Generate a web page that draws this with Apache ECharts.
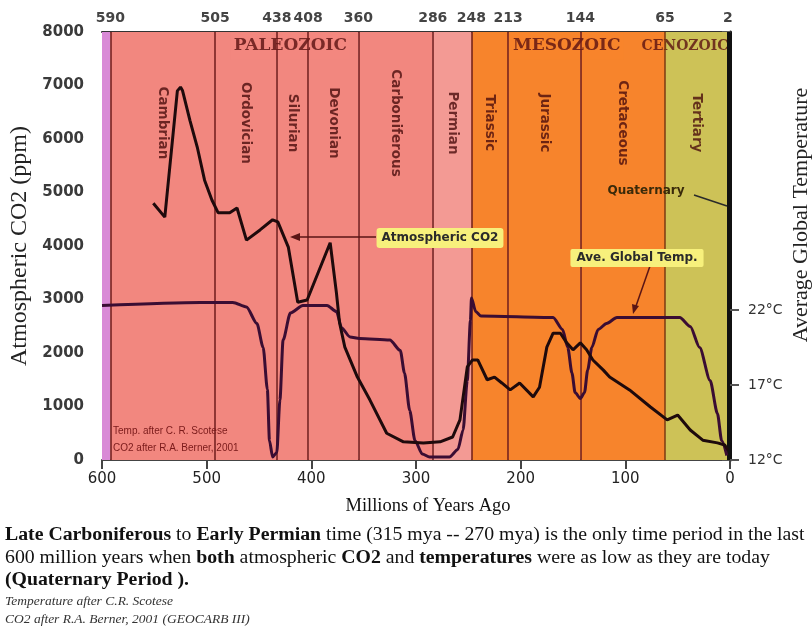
<!DOCTYPE html>
<html>
<head>
<meta charset="utf-8">
<script src="https://cdn.jsdelivr.net/npm/echarts@6.0.0/dist/echarts.min.js"></script>
<style>
html, body { margin: 0; padding: 0; background: #fff; }
#container { width: 812px; height: 630px; }
</style>
</head>
<body>
<div id="container"></div>
<script>
// CO2 curve (Berner) - millions of years ago / ppm
var co2Age = [551, 540, 528, 525, 523, 516, 509, 502, 495, 489, 478, 471, 462, 449, 437, 432, 422, 413, 404, 382, 376, 373, 368, 356, 344, 328, 312, 293, 277, 265, 258, 251, 246, 241, 232, 225, 218, 210, 201, 188, 182, 175, 169, 162, 156, 150, 143, 137, 131, 121, 115, 96, 76, 60, 50, 38, 26, 12, 5, 2];
var co2Ppm = [4800, 4540, 6900, 6970, 6900, 6350, 5850, 5230, 4860, 4620, 4620, 4710, 4110, 4300, 4490, 4450, 3980, 2950, 2990, 4060, 3120, 2560, 2110, 1550, 1120, 500, 340, 320, 340, 430, 750, 1740, 1870, 1870, 1500, 1550, 1440, 1310, 1440, 1180, 1360, 2110, 2370, 2370, 2190, 2060, 2190, 2060, 1870, 1680, 1550, 1310, 990, 750, 840, 560, 370, 320, 280, 190];

// temperature curve (Scotese) - millions of years ago / deg C
var tempAge = [600, 506, 475, 462, 452, 446, 442, 440, 437, 433, 430, 427, 420, 408, 385, 376, 371, 363, 354, 325, 315, 311, 306, 301, 294, 287, 268, 260, 255, 251, 248, 247, 243, 238, 169, 160, 155, 151, 148, 143, 139, 136, 132, 126, 118, 108, 48, 38, 29, 19, 12, 8, 3];
var tempC = [22.3, 22.5, 22.5, 22.2, 21.1, 19.5, 16.7, 13.3, 12.2, 12.5, 16.0, 20.0, 21.8, 22.3, 22.3, 21.9, 20.8, 20.2, 20.1, 20.0, 19.3, 17.8, 15.3, 13.3, 12.4, 12.2, 12.2, 12.7, 14.0, 17.3, 21.3, 22.8, 21.9, 21.6, 21.5, 20.7, 19.5, 17.8, 16.5, 16.1, 16.5, 18.0, 19.5, 20.7, 21.1, 21.5, 21.5, 20.9, 19.5, 17.3, 15.1, 13.3, 12.3];

// period boundaries as drawn, with the ages printed above them
var boundaryPos = [592, 492, 433, 403, 355, 284, 247, 212, 143, 62, 2];
var boundaryLabels = ['590', '505', '438', '408', '360', '286', '248', '213', '144', '65', '2'];
var periodNames = ['Cambrian', 'Ordovician', 'Silurian', 'Devonian', 'Carboniferous', 'Permian', 'Triassic', 'Jurassic', 'Cretaceous', 'Tertiary'];
var periodEra = ['P', 'P', 'P', 'P', 'P', 'Pm', 'M', 'M', 'M', 'C'];
var eraNames = ['PALEOZOIC', 'MESOZOIC', 'CENOZOIC'];
var eraAge = [420, 156, 43];
var tempTicks = [12, 17, 22];

var bandColor = { P: '#f2877f', Pm: '#f39a94', M: '#f7842c', C: '#cdc257' };
var lineCol = '#6e1b1b';

var dom = document.getElementById('container');
var chart = echarts.init(dom, null, { renderer: 'canvas' });

// coloured bands behind the curves
var bands = [[{ xAxis: 600, itemStyle: { color: '#d98ad6' } }, { xAxis: boundaryPos[0] }]];
periodNames.forEach(function (name, i) {
    bands.push([{ xAxis: boundaryPos[i], itemStyle: { color: bandColor[periodEra[i]] } }, { xAxis: boundaryPos[i + 1] }]);
});
bands.push([{ xAxis: 2, itemStyle: { color: bandColor.C } }, { xAxis: 0 }]);

var bLines = boundaryPos.map(function (p, i) {
    var st = { color: lineCol, width: 1.5, type: 'solid' };
    if (p == 62) st = { color: '#7a3a10', width: 1.5, type: 'solid' };
    if (p == 2) st = { color: '#111', width: 3, type: 'solid' };
    return { xAxis: p, lineStyle: st };
});

var periodLabels = periodNames.map(function (n, i) {
    return [(boundaryPos[i] + boundaryPos[i + 1]) / 2, 6300, n];
});

var eraBg = ['#f2877f', '#f7842c', null];
var eraSize = [17, 17, 14];
var eraData = eraNames.map(function (n, i) {
    return {
        value: [eraAge[i], 7740, n],
        label: {
            fontSize: eraSize[i],
            backgroundColor: eraBg[i] || 'transparent',
            padding: [5, 3]
        }
    };
});

var serif = '"Liberation Serif", "Times New Roman", serif';
var sans = '"DejaVu Sans", Verdana, sans-serif';

var option = {
    backgroundColor: '#fff',
    animation: false,
    grid: { left: 102, right: 82, top: 32, bottom: 170, outerBoundsMode: 'none' },
    xAxis: [
        {
            type: 'value', min: 0, max: 600, interval: 100, inverse: true, position: 'bottom',
            axisLine: { show: true, lineStyle: { color: '#444', width: 2 } },
            axisTick: { show: true, length: 9, lineStyle: { color: '#444', width: 2 } },
            axisLabel: { fontFamily: sans, fontSize: 15, color: '#222', margin: 12, formatter: function (v) { return String(v); } },
            splitLine: { show: false }
        },
        {
            type: 'value', min: 0, max: 600, inverse: true, position: 'top',
            axisLine: { show: true, lineStyle: { color: '#333', width: 2 } },
            axisTick: { show: false },
            axisLabel: {
                customValues: boundaryPos,
                formatter: function (v) { return boundaryLabels[boundaryPos.indexOf(v)]; },
                fontFamily: sans, fontWeight: 'bold', fontSize: 14, color: '#444', margin: 7
            },
            splitLine: { show: false }
        }
    ],
    yAxis: [
        {
            type: 'value', min: 0, max: 8000, interval: 1000,
            name: 'Atmospheric CO2 (ppm)', nameLocation: 'middle', nameGap: 56,
            nameTextStyle: { fontFamily: serif, fontSize: 24, color: '#222' },
            axisLine: { show: true, lineStyle: { color: '#555', width: 2 } },
            axisTick: { show: true, length: 8, lineStyle: { color: '#555', width: 2 } },
            axisLabel: {
                fontFamily: sans, fontWeight: 'bold', fontSize: 15, color: '#3a3a3a', margin: 18,
                formatter: function (v) { return String(v); }
            },
            splitLine: { show: false }
        },
        {
            type: 'value', min: 12, max: 40.53, position: 'right',
            axisLine: { show: true, lineStyle: { color: '#111', width: 3 } },
            axisTick: { show: true, customValues: tempTicks, length: 9, lineStyle: { color: '#555', width: 2 } },
            axisLabel: {
                customValues: tempTicks, formatter: '{value}°C',
                fontFamily: sans, fontSize: 14, color: '#333', margin: 18
            },
            splitLine: { show: false }
        }
    ],
    series: [
        {
            name: 'bands', type: 'line', data: [], z: 1, silent: true,
            markArea: { silent: true, data: bands, itemStyle: { opacity: 1 } },
            markLine: { silent: true, symbol: 'none', label: { show: false }, data: bLines }
        },
        {
            name: 'periods', type: 'scatter', z: 3, symbolSize: 1, silent: true,
            itemStyle: { color: 'rgba(0,0,0,0)' },
            data: periodLabels,
            label: {
                show: true, position: 'inside', rotate: -90,
                formatter: function (p) { return p.data[2]; },
                fontFamily: sans, fontWeight: 'bold', fontSize: 13.5, color: '#4a0d0d'
            }
        },
        {
            name: 'eras', type: 'scatter', z: 4, symbolSize: 1, silent: true,
            itemStyle: { color: 'rgba(0,0,0,0)' },
            data: eraData,
            label: {
                show: true, position: 'inside',
                formatter: function (p) { return p.data.value[2]; },
                fontFamily: '"DejaVu Serif", serif', fontWeight: 'bold', color: '#5a1212'
            }
        },
        {
            name: 'Ave. Global Temp.', type: 'line', xAxisIndex: 0, yAxisIndex: 1, z: 5,
            data: tempAge.map(function (a, i) { return [a, tempC[i]]; }),
            showSymbol: false, smooth: 0.25, smoothMonotone: 'x',
            lineStyle: { color: '#3a0d33', width: 3 }
        },
        {
            name: 'Atmospheric CO2', type: 'line', xAxisIndex: 0, yAxisIndex: 0, z: 6,
            data: co2Age.map(function (a, i) { return [a, co2Ppm[i]]; }),
            showSymbol: false,
            lineStyle: { color: '#1e0a0c', width: 3 }
        }
    ],
    graphic: [
        {
            type: 'text', x: 801, y: 215, rotation: Math.PI / 2, z: 100,
            style: { text: 'Average Global Temperature', font: '22px ' + serif, fill: '#222', textAlign: 'center', textVerticalAlign: 'middle' }
        },
        {
            type: 'text', x: 428, y: 506, z: 100,
            style: { text: 'Millions of Years Ago', font: '18.5px ' + serif, fill: '#111', textAlign: 'center', textVerticalAlign: 'middle' }
        },
        // notes inside the plot
        {
            type: 'text', x: 113, y: 431, z: 100,
            style: { text: 'Temp. after C. R. Scotese', font: '10px "Liberation Sans", sans-serif', fill: '#7a1a1a', textVerticalAlign: 'middle' }
        },
        {
            type: 'text', x: 113, y: 448, z: 100,
            style: { text: 'CO2 after R.A. Berner, 2001', font: '10px "Liberation Sans", sans-serif', fill: '#7a1a1a', textVerticalAlign: 'middle' }
        },
        // annotations
        {
            type: 'line', z: 100, shape: { x1: 376, y1: 237, x2: 297, y2: 237 },
            style: { stroke: '#5a1515', lineWidth: 1.5 }
        },
        {
            type: 'polygon', z: 100, shape: { points: [[290, 237], [300, 233], [300, 241]] },
            style: { fill: '#5a1515' }
        },
        {
            type: 'text', x: 440, y: 238, z: 101,
            style: {
                text: 'Atmospheric CO2', font: 'bold 12px ' + sans, fill: '#2a2a2a',
                textAlign: 'center', textVerticalAlign: 'middle',
                backgroundColor: '#f7f07c', padding: [4, 5], borderRadius: 3
            }
        },
        {
            type: 'line', z: 100, shape: { x1: 650, y1: 266, x2: 636, y2: 306 },
            style: { stroke: '#5a1515', lineWidth: 1.5 }
        },
        {
            type: 'polygon', z: 100, shape: { points: [[633, 314], [639, 306], [632, 304]] },
            style: { fill: '#5a1515' }
        },
        {
            type: 'text', x: 637, y: 258, z: 101,
            style: {
                text: 'Ave. Global Temp.', font: 'bold 12px ' + sans, fill: '#2a2a2a',
                textAlign: 'center', textVerticalAlign: 'middle',
                backgroundColor: '#f7f07c', padding: [3, 6], borderRadius: 2
            }
        },
        {
            type: 'text', x: 646, y: 191, z: 101,
            style: { text: 'Quaternary', font: 'bold 12px ' + sans, fill: '#3a2a0a', textAlign: 'center', textVerticalAlign: 'middle' }
        },
        {
            type: 'line', z: 100, shape: { x1: 694, y1: 195, x2: 727, y2: 206 },
            style: { stroke: '#2a2a2a', lineWidth: 1.5 }
        },
        // caption under the chart
        {
            type: 'text', x: 5, y: 535, z: 100,
            style: {
                text: '{b|Late Carboniferous}{n| to }{b|Early Permian}{n| time (315 mya -- 270 mya) is the only time period in the last}',
                textVerticalAlign: 'middle',
                rich: {
                    n: { fontFamily: serif, fontSize: 19.8, fill: '#111' },
                    b: { fontFamily: serif, fontSize: 19.8, fontWeight: 'bold', fill: '#111' }
                }
            }
        },
        {
            type: 'text', x: 5, y: 558, z: 100,
            style: {
                text: '{n|600 million years when }{b|both}{n| atmospheric }{b|CO2}{n| and }{b|temperatures}{n| were as low as they are today}',
                textVerticalAlign: 'middle',
                rich: {
                    n: { fontFamily: serif, fontSize: 19.8, fill: '#111' },
                    b: { fontFamily: serif, fontSize: 19.8, fontWeight: 'bold', fill: '#111' }
                }
            }
        },
        {
            type: 'text', x: 5, y: 580, z: 100,
            style: { text: '(Quaternary Period ).', font: 'bold 19.8px ' + serif, fill: '#111', textVerticalAlign: 'middle' }
        },
        {
            type: 'text', x: 5, y: 601, z: 100,
            style: { text: 'Temperature after C.R. Scotese', font: 'italic 13.5px ' + serif, fill: '#333', textVerticalAlign: 'middle' }
        },
        {
            type: 'text', x: 5, y: 619, z: 100,
            style: { text: 'CO2 after R.A. Berner, 2001 (GEOCARB III)', font: 'italic 13.5px ' + serif, fill: '#333', textVerticalAlign: 'middle' }
        }
    ]
};

chart.setOption(option);
window.addEventListener('resize', chart.resize);
</script>
</body>
</html>
